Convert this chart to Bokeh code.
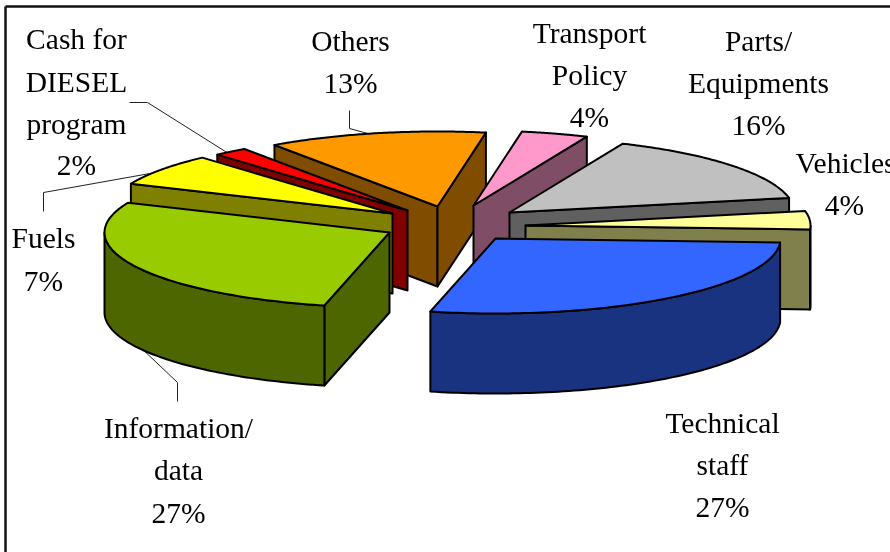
import numpy as np
from bokeh.plotting import figure
from bokeh.embed import file_html
from bokeh.resources import INLINE
from bokeh.core.properties import value

# ---- data ----
categories = ["Technical staff", "Information/data", "Fuels", "Cash for DIESEL program",
              "Others", "Transport Policy", "Parts/Equipments", "Vehicles"]
percent = [27, 27, 7, 2, 13, 4, 16, 4]
top_colors = ["#3366FF", "#99CC00", "#FFFF00", "#FF0000", "#FF9900", "#FF99CC", "#C0C0C0", "#FFFF99"]
side_colors = ["#1A3380", "#4D6600", "#808000", "#800000", "#804D00", "#804D66", "#606060", "#80804D"]

# ---- layout of the exploded 3-D pie (page pixels) ----
centres = [(495, 238), (389, 232), (392, 213), (407, 210), (437, 206), (473, 205), (509, 212), (525, 225)]
RX, RY, DEPTH = 285, 75, 80
START = 3.0
draw_order = [4, 3, 2, 1, 5, 6, 7, 0]

def warp(t):
    # small view-perspective correction of the drawn angle
    return t + 3.0 * (1 + np.cos(np.radians(t - 190)))

cum = np.cumsum([0] + percent) * 3.6 + START

p = figure(width=890, height=552, x_range=(0, 890), y_range=(552, 0),
           output_backend="svg", toolbar_location=None, min_border=0,
           outline_line_color=None, background_fill_color="white",
           x_axis_type=None, y_axis_type=None,
           styles={"position": "fixed", "left": "0px", "top": "0px"})
p.grid.visible = False

# frame
p.segment([5, 5], [6, 6], [890, 5], [6, 552], line_color="#111111", line_width=2.5)

# leader lines (drawn first: they end behind the pie)
leaders_x = [[129, 147, 228], [349, 349, 378], [43, 43, 155], [177, 177, 138]]
leaders_y = [[102, 102, 153], [110, 128, 136], [211, 192, 172], [401, 382, 345]]
p.multi_line(leaders_x, leaders_y, line_color="#222222", line_width=1)

def poly(xs, ys, color):
    p.patch(list(xs), list(ys), fill_color=color, line_color="black", line_width=2, line_join="round")

for i in draw_order:
    a0, a1 = warp(cum[i]), warp(cum[i + 1])
    cx, cy = centres[i]
    t = np.radians(np.linspace(a0, a1, 90))
    rx_pts, ry_pts = cx + RX * np.cos(t), cy + RY * np.sin(t)

    # radial walls that face the viewer
    if np.sin(np.radians(a0 - 90)) > 0:
        poly([cx, rx_pts[0], rx_pts[0], cx], [cy, ry_pts[0], ry_pts[0] + DEPTH, cy + DEPTH], side_colors[i])
    if np.sin(np.radians(a1 + 90)) > 0:
        poly([cx, rx_pts[-1], rx_pts[-1], cx], [cy, ry_pts[-1], ry_pts[-1] + DEPTH, cy + DEPTH], side_colors[i])

    # rim wall: only the front part of the ellipse
    vis = np.sin(t) > 0
    if vis.sum() > 1:
        xv, yv = rx_pts[vis], ry_pts[vis]
        poly(np.r_[xv, xv[::-1]], np.r_[yv, yv[::-1] + DEPTH], side_colors[i])

    # top face
    poly(np.r_[cx, rx_pts], np.r_[cy, ry_pts], top_colors[i])

# labels: (centre x, text centre y, text)
labels = [
    (76, 38, "Cash for"), (76, 81, "DIESEL"), (76, 123, "program"), (76, 164, "2%"),
    (350, 40, "Others"), (350, 82, "13%"),
    (589, 32, "Transport"), (589, 74, "Policy"), (589, 116, "4%"),
    (758, 40, "Parts/"), (758, 82, "Equipments"), (758, 124, "16%"),
    (845, 162, "Vehicles"), (844, 204, "4%"),
    (43, 237, "Fuels"), (43, 280, "7%"),
    (178, 427, "Information/"), (178, 469, "data"), (178, 512, "27%"),
    (722, 422, "Technical"), (722, 464, "staff"), (722, 506, "27%"),
]
p.text([l[0] for l in labels], [l[1] for l in labels], text=[l[2] for l in labels],
       text_font=value("Liberation Serif"), text_font_size="29.5px", text_color="black",
       text_align="center", text_baseline="middle")

open("out.html", "w").write(file_html(p, INLINE))
